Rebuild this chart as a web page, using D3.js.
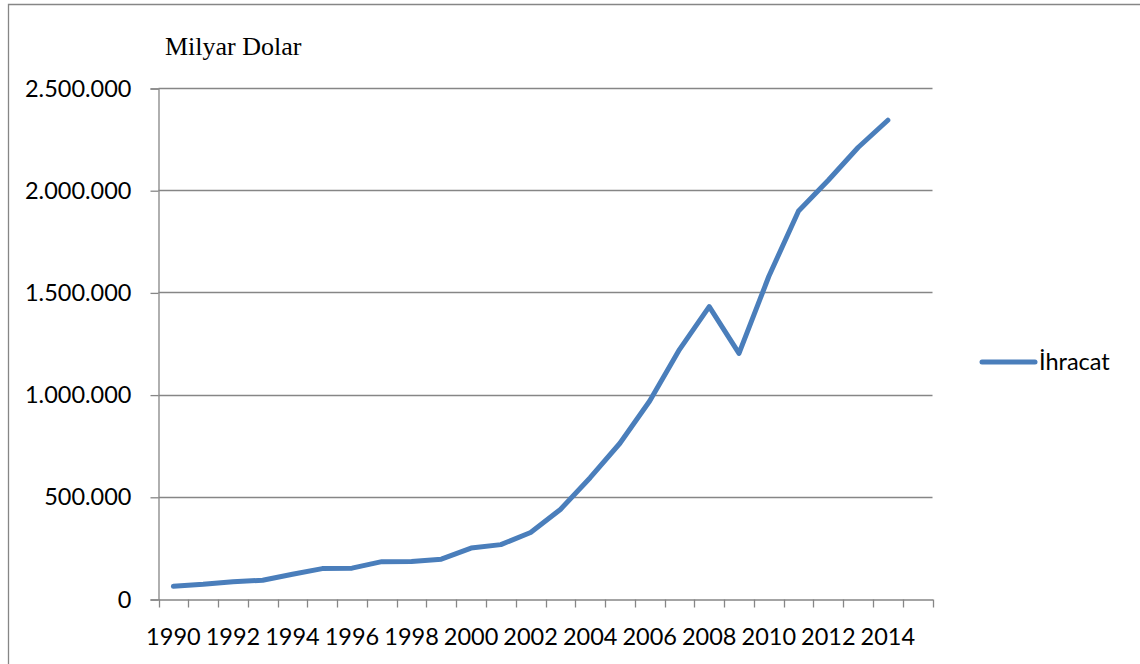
<!DOCTYPE html>
<html lang="tr">
<head>
<meta charset="UTF-8">
<script src="https://cdn.jsdelivr.net/npm/d3@7/dist/d3.min.js"></script>
<title>İhracat</title>
<style>
  body { margin: 0; background: #fff; }
  svg { display: block; }
</style>
</head>
<body>
<svg width="1140" height="664"></svg>
<script>
// veriler (milyon dolar)
const years = d3.range(1990, 2016); // 2015 kategorisi boş
const ihracat = [62091, 71843, 84940, 91744, 121006, 148780, 151048, 182792, 183712, 194931,
                 249203, 266098, 325596, 438228, 593326, 761953, 968978, 1220060, 1430693, 1201612,
                 1577754, 1898381, 2048714, 2209004, 2342293, null];
const yTicks = [0, 500000, 1000000, 1500000, 2000000, 2500000];
const seriesName = 'İhracat';
const yTitle = 'Milyar Dolar';

const svg = d3.select('svg');
const gridColor = '#868686';
const lineColor = '#4a7ebb';
const tickFont = 'Lato, "Noto Sans", sans-serif';
const tickSize = 23.5;

// dış çerçeve
svg.append('path')
    .attr('d', 'M8.5,664 V4.5 H1140')
    .attr('fill', 'none')
    .attr('stroke', gridColor)
    .attr('stroke-width', 1.3);

const x = d3.scaleBand().domain(years).range([158.5, 932.5]).padding(0);
const y = d3.scaleLinear().domain([0, 2500000]).range([599, 88]);

const trFormat = d3.formatLocale({ decimal: ',', thousands: '.', grouping: [3], currency: ['', ''] }).format(',');

// yatay ızgara
svg.append('g')
    .selectAll('line')
    .data(yTicks.slice(1))
    .join('line')
    .attr('x1', 158.5).attr('x2', 932.5)
    .attr('y1', d => Math.round(y(d)) + 0.5)
    .attr('y2', d => Math.round(y(d)) + 0.5)
    .attr('stroke', gridColor)
    .attr('stroke-width', 1.3);

// y ekseni
const yAxis = svg.append('g')
    .attr('transform', 'translate(158.5,0.5)')
    .call(d3.axisLeft(y).tickValues(yTicks).tickFormat(trFormat).tickSize(8).tickPadding(19));
yAxis.selectAll('path, line').attr('stroke', gridColor).attr('stroke-width', 1.3);
yAxis.selectAll('text')
    .attr('font-family', tickFont)
    .attr('font-size', tickSize)
    .attr('fill', '#000');

// x ekseni
const xAxis = svg.append('g')
    .attr('transform', 'translate(0,599.5)')
    .call(d3.axisBottom(x).tickSize(0).tickPadding(29)
        .tickFormat(d => (d - 1990) % 2 === 0 ? d : ''));
xAxis.select('.domain').attr('stroke', gridColor).attr('stroke-width', 1.3);
xAxis.selectAll('text')
    .attr('font-family', tickFont)
    .attr('font-size', tickSize)
    .attr('fill', '#000');

// kategori sınır çizgileri
const bounds = years.map(d => x(d)).concat([x.range()[1]]);
xAxis.append('g')
    .selectAll('line')
    .data(bounds)
    .join('line')
    .attr('x1', d => Math.round(d) + 0.5)
    .attr('x2', d => Math.round(d) + 0.5)
    .attr('y1', 0).attr('y2', 8)
    .attr('stroke', gridColor)
    .attr('stroke-width', 1.3);

// çizgi
const line = d3.line()
    .defined(d => d != null)
    .x((d, i) => x(years[i]) + x.bandwidth() / 2)
    .y(d => y(d));

svg.append('path')
    .attr('d', line(ihracat))
    .attr('fill', 'none')
    .attr('stroke', lineColor)
    .attr('stroke-width', 5)
    .attr('stroke-linejoin', 'round')
    .attr('stroke-linecap', 'round');

// y başlığı
svg.append('text')
    .attr('x', 165)
    .attr('y', 55)
    .attr('font-family', '"Liberation Serif", "Times New Roman", serif')
    .attr('font-size', 26)
    .attr('fill', '#000')
    .text(yTitle);

// lejant
const legend = svg.append('g');
legend.append('line')
    .attr('x1', 982).attr('x2', 1035)
    .attr('y1', 362).attr('y2', 362)
    .attr('stroke', lineColor)
    .attr('stroke-width', 5)
    .attr('stroke-linecap', 'round');
legend.append('text')
    .attr('x', 1039)
    .attr('y', 370)
    .attr('font-family', tickFont)
    .attr('font-size', tickSize)
    .attr('fill', '#000')
    .text(seriesName);
</script>
</body>
</html>
